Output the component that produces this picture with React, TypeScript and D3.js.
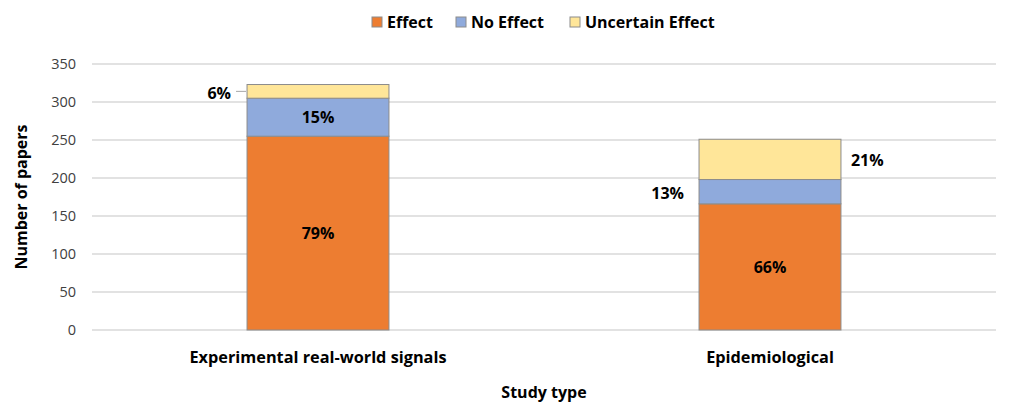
import React from "react";
import * as d3 from "d3";

const categories = ["Experimental real-world signals", "Epidemiological"];
const seriesNames = ["Effect", "No Effect", "Uncertain Effect"];
const effectValues = [255, 166];
const noEffectValues = [50, 32];
const uncertainValues = [18, 53];
const effectLabels = ["79%", "66%"];
const noEffectLabels = ["15%", "13%"];
const uncertainLabels = ["6%", "21%"];
const yTicks = [0, 50, 100, 150, 200, 250, 300, 350];
const colors = ["#ED7D31", "#8FAADC", "#FFE699"];

const W = 1013;
const H = 416;
const M = { left: 92, right: 17, top: 64, bottom: 86 };
const FONT = "'Open Sans', 'Noto Sans', sans-serif";

export default function App() {
  const x = d3
    .scaleBand<string>()
    .domain(categories)
    .range([M.left, W - M.right])
    .padding(0);
  const y = d3.scaleLinear().domain([0, 350]).range([H - M.bottom, M.top]);
  const barW = x.bandwidth() * 0.314;

  const table = categories.map((c, i) => ({
    cat: c,
    Effect: effectValues[i],
    "No Effect": noEffectValues[i],
    "Uncertain Effect": uncertainValues[i],
  }));
  const stack = d3.stack<any>().keys(seriesNames)(table);
  const labels = [effectLabels, noEffectLabels, uncertainLabels];

  const placement = [
    ["in", "in"],
    ["in", "left"],
    ["left", "right"],
  ];

  const legendItems = [
    { name: "Effect", x: 372 },
    { name: "No Effect", x: 456 },
    { name: "Uncertain Effect", x: 570 },
  ];

  const LBL = 16;

  return (
    <svg
      width={W}
      height={H}
      style={{ position: "absolute", left: 0, top: 0, background: "#fff" }}
      fontFamily={FONT}
    >
      {yTicks.map((t) => (
        <g key={t}>
          <line
            x1={M.left}
            x2={W - M.right}
            y1={y(t)}
            y2={y(t)}
            stroke="#D9D9D9"
            strokeWidth={1.3}
          />
          <text
            x={76}
            y={y(t)}
            dy="0.35em"
            textAnchor="end"
            fontSize={14.5}
            fill="#404040"
          >
            {t}
          </text>
        </g>
      ))}

      {stack.map((s, si) => (
        <g key={s.key}>
          {s.map((d, i) => {
            const cx = (x(categories[i]) as number) + x.bandwidth() / 2;
            const y0 = y(d[0]);
            const y1 = y(d[1]);
            return (
              <rect
                key={i}
                x={cx - barW / 2}
                y={y1}
                width={barW}
                height={y0 - y1}
                fill={colors[si]}
                stroke="#8C8C8C"
                strokeWidth={1}
              />
            );
          })}
        </g>
      ))}

      {stack.map((s, si) =>
        s.map((d, i) => {
          const cx = (x(categories[i]) as number) + x.bandwidth() / 2;
          const cy = (y(d[0]) + y(d[1])) / 2;
          const p = placement[si][i];
          const lab = labels[si][i];
          if (p === "in") {
            return (
              <text
                key={`${si}-${i}`}
                x={cx}
                y={cy}
                dy="0.35em"
                textAnchor="middle"
                fontSize={LBL}
                fontWeight="bold"
                fill="#000"
              >
                {lab}
              </text>
            );
          }
          if (p === "left") {
            const hasLeader = si === 2;
            return (
              <g key={`${si}-${i}`}>
                {hasLeader && (
                  <line
                    x1={cx - barW / 2 - 11}
                    x2={cx - barW / 2 - 1}
                    y1={cy}
                    y2={cy}
                    stroke="#A6A6A6"
                    strokeWidth={1}
                  />
                )}
                <text
                  x={cx - barW / 2 - (hasLeader ? 16 : 15)}
                  y={cy + 2}
                  dy="0.35em"
                  textAnchor="end"
                  fontSize={LBL}
                  fontWeight="bold"
                  fill="#000"
                >
                  {lab}
                </text>
              </g>
            );
          }
          return (
            <text
              key={`${si}-${i}`}
              x={cx + barW / 2 + 10}
              y={cy + 1}
              dy="0.35em"
              textAnchor="start"
              fontSize={LBL}
              fontWeight="bold"
              fill="#000"
            >
              {lab}
            </text>
          );
        })
      )}

      {categories.map((c) => (
        <text
          key={c}
          x={(x(c) as number) + x.bandwidth() / 2}
          y={363}
          textAnchor="middle"
          fontSize={16.3}
          fontWeight="bold"
          fill="#000"
        >
          {c}
        </text>
      ))}

      <text
        x={(M.left + W - M.right) / 2}
        y={398}
        textAnchor="middle"
        fontSize={16}
        fontWeight="bold"
        fill="#000"
      >
        Study type
      </text>

      <text
        transform={`translate(27, ${(M.top + H - M.bottom) / 2}) rotate(-90)`}
        textAnchor="middle"
        fontSize={16}
        fontWeight="bold"
        fill="#000"
      >
        Number of papers
      </text>

      {legendItems.map((l, i) => (
        <g key={l.name}>
          <rect
            x={l.x}
            y={17}
            width={10}
            height={10}
            fill={colors[i]}
            stroke="#8C8C8C"
            strokeWidth={1}
          />
          <text
            x={l.x + 15}
            y={22}
            dy="0.35em"
            fontSize={16}
            fontWeight="bold"
            fill="#000"
          >
            {l.name}
          </text>
        </g>
      ))}
    </svg>
  );
}
